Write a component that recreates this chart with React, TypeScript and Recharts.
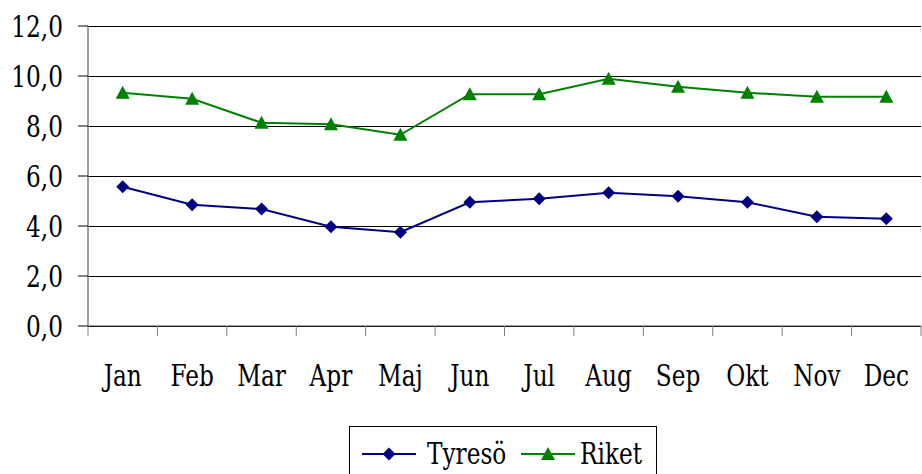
import { LineChart, Line, XAxis, YAxis, CartesianGrid, Legend } from 'recharts';

const months = ['Jan', 'Feb', 'Mar', 'Apr', 'Maj', 'Jun', 'Jul', 'Aug', 'Sep', 'Okt', 'Nov', 'Dec'];
const tyreso = [5.57, 4.85, 4.68, 3.97, 3.75, 4.95, 5.09, 5.33, 5.19, 4.95, 4.37, 4.29];
const riket = [9.33, 9.09, 8.13, 8.07, 7.65, 9.27, 9.27, 9.89, 9.57, 9.33, 9.17, 9.17];
const yTicks = [0, 2, 4, 6, 8, 10, 12];

const data = months.map((m, i) => ({ month: m, 'Tyresö': tyreso[i], Riket: riket[i] }));

// only DejaVu Serif renders as a serif here, so squeeze it to look like Times
const FONT = "'DejaVu Serif'";
const FS = 29;
const SX = 0.8;
const NAVY = '#000080';
const GREEN = '#008000';
const PLOT_W = 833; // 922 - 88 - 1

const Diamond = ({ cx, cy, fill }: any) => {
  if (cx == null || cy == null) return null;
  return <path d={`M${cx},${cy - 6.5} L${cx + 6.5},${cy} L${cx},${cy + 6.5} L${cx - 6.5},${cy} Z`} fill={fill} />;
};

const Triangle = ({ cx, cy, fill }: any) => {
  if (cx == null || cy == null) return null;
  return <path d={`M${cx},${cy - 7} L${cx + 7},${cy + 6} L${cx - 7},${cy + 6} Z`} fill={fill} />;
};

const series = [
  { key: 'Tyresö', color: NAVY, Marker: Diamond },
  { key: 'Riket', color: GREEN, Marker: Triangle },
];

const Label = ({ x, y, anchor, children }: any) => (
  <text
    transform={`translate(${x},${y}) scale(${SX},1)`}
    textAnchor={anchor}
    fill="#000"
    style={{ fontSize: FS, fontFamily: FONT }}
  >
    {children}
  </text>
);

const MonthTick = ({ x, y, payload, index }: any) => {
  const bw = PLOT_W / months.length;
  const left = x - bw / 2;
  return (
    <g>
      <line x1={left} y1={y} x2={left} y2={y + 10} stroke="#808080" />
      {index === months.length - 1 && (
        <line x1={x + bw / 2} y1={y} x2={x + bw / 2} y2={y + 10} stroke="#808080" />
      )}
      <Label x={x} y={y + 60} anchor="middle">{payload.value}</Label>
    </g>
  );
};

const ValueTick = ({ x, y, payload }: any) => (
  <Label x={x} y={y + 10.5} anchor="end">{payload.value.toFixed(1).replace('.', ',')}</Label>
);

const LegendBox = () => (
  <div style={{ width: 308, height: 60, border: '1px solid #000', background: '#fff', boxSizing: 'border-box' }}>
    <svg width={306} height={58}>
      {series.map((s, i) => {
        const x0 = 12 + i * 159;
        const cy = 27;
        const M = s.Marker;
        return (
          <g key={s.key}>
            <line x1={x0} y1={cy} x2={x0 + 54} y2={cy} stroke={s.color} strokeWidth={2} />
            <M cx={x0 + 27} cy={cy} fill={s.color} />
            <Label x={x0 + (i === 0 ? 65 : 59)} y={37} anchor="start">{s.key}</Label>
          </g>
        );
      })}
    </svg>
  </div>
);

export default function App() {
  return (
    <div style={{ position: 'absolute', left: 0, top: 0, width: 922, height: 474, background: '#fff' }}>
      <LineChart width={922} height={474} data={data} margin={{ top: 26, right: 1, bottom: 0, left: 0 }}>
        <CartesianGrid vertical={false} stroke="#000" shapeRendering="crispEdges" />
        <XAxis
          dataKey="month"
          scale="band"
          height={148}
          tickSize={0}
          tickMargin={0}
          tickLine={false}
          axisLine={{ stroke: '#404040' }}
          tick={<MonthTick />}
          interval={0}
        />
        <XAxis xAxisId="top" dataKey="month" orientation="top" height={0} tick={false} tickLine={false} axisLine={{ stroke: '#909090', strokeWidth: 1.5 }} />
        <YAxis
          domain={[0, 12]}
          ticks={yTicks}
          width={88}
          tickSize={10}
          tickMargin={15}
          interval={0}
          axisLine={{ stroke: '#808080', strokeWidth: 1.5 }}
          tickLine={{ stroke: '#000' }}
          tick={<ValueTick />}
        />
        <YAxis yAxisId="right" orientation="right" width={0} domain={[0, 12]} tick={false} tickLine={false} axisLine={{ stroke: '#909090', strokeWidth: 1.5 }} />
        <Legend
          verticalAlign="middle"
          layout="horizontal"
          content={<LegendBox />}
          wrapperStyle={{ position: 'absolute', left: 349, top: 426, width: 308 }}
        />
        {series.map((s) => (
          <Line
            key={s.key}
            dataKey={s.key}
            stroke={s.color}
            strokeWidth={2}
            dot={<s.Marker fill={s.color} />}
            activeDot={false}
            isAnimationActive={false}
          />
        ))}
      </LineChart>
    </div>
  );
}
